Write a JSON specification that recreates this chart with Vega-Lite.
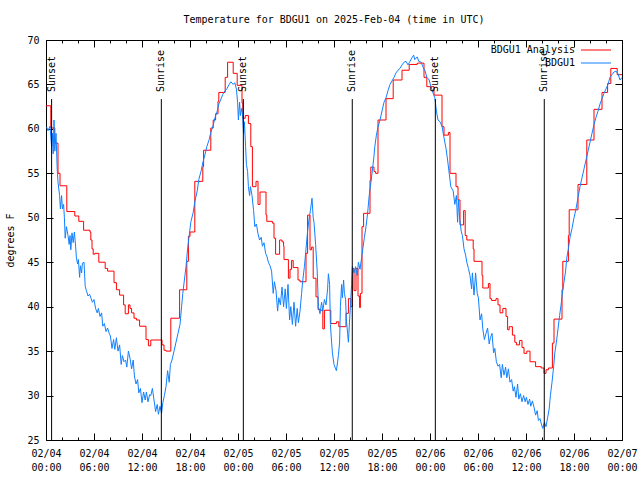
{
"$schema": "https://vega.github.io/schema/vega-lite/v6.json",
"width": 576, "height": 400,
"autosize": {"type": "none"},
"padding": {"left": 46, "top": 40, "right": 18, "bottom": 40},
"background": "white",
"title": {"text": "Temperature for BDGU1 on 2025-Feb-04 (time in UTC)", "font": "DejaVu Sans Mono", "fontSize": 10, "fontWeight": "normal", "color": "black", "offset": 10, "anchor": "middle"},
"config": {
 "view": {"stroke": null},
 "font": "DejaVu Sans Mono",
 "axis": {"labelFont": "DejaVu Sans Mono", "labelFontSize": 10, "labelColor": "black", "titleFont": "DejaVu Sans Mono", "titleFontSize": 10, "titleFontWeight": "normal", "titleColor": "black", "domainColor": "black", "tickColor": "black", "grid": false, "labelFlush": false, "labelOverlap": false, "labelBound": false, "domainWidth": 1, "tickWidth": 1},
 "legend": {"labelFont": "DejaVu Sans Mono", "labelFontSize": 10, "labelColor": "black"}
},
"datasets": {
"analysis": [
{"time":"2025-02-04T00:00Z","temp":62.6},{"time":"2025-02-04T00:36Z","temp":60.1},{"time":"2025-02-04T01:06Z","temp":58.4},{"time":"2025-02-04T01:30Z","temp":55.0},{"time":"2025-02-04T01:45Z","temp":53.6},{"time":"2025-02-04T02:36Z","temp":50.7},{"time":"2025-02-04T03:36Z","temp":50.2},{"time":"2025-02-04T04:06Z","temp":49.6},{"time":"2025-02-04T04:42Z","temp":48.6},{"time":"2025-02-04T05:30Z","temp":48.4},{"time":"2025-02-04T05:36Z","temp":47.5},{"time":"2025-02-04T05:45Z","temp":46.5},{"time":"2025-02-04T05:54Z","temp":45.9},{"time":"2025-02-04T06:06Z","temp":46.0},{"time":"2025-02-04T06:36Z","temp":45.0},{"time":"2025-02-04T07:24Z","temp":44.3},{"time":"2025-02-04T07:42Z","temp":44.0},{"time":"2025-02-04T08:30Z","temp":42.7},{"time":"2025-02-04T08:48Z","temp":41.9},{"time":"2025-02-04T09:12Z","temp":41.3},{"time":"2025-02-04T09:42Z","temp":40.2},{"time":"2025-02-04T09:54Z","temp":39.2},{"time":"2025-02-04T10:18Z","temp":40.2},{"time":"2025-02-04T10:30Z","temp":39.8},{"time":"2025-02-04T10:42Z","temp":39.3},{"time":"2025-02-04T11:00Z","temp":38.7},{"time":"2025-02-04T11:18Z","temp":38.5},{"time":"2025-02-04T11:42Z","temp":37.8},{"time":"2025-02-04T12:30Z","temp":36.3},{"time":"2025-02-04T12:48Z","temp":35.6},{"time":"2025-02-04T13:06Z","temp":36.25},{"time":"2025-02-04T14:30Z","temp":35.7},{"time":"2025-02-04T14:45Z","temp":35.1},{"time":"2025-02-04T15:00Z","temp":35.0},{"time":"2025-02-04T15:36Z","temp":38.7},{"time":"2025-02-04T16:42Z","temp":41.9},{"time":"2025-02-04T17:36Z","temp":45.1},{"time":"2025-02-04T17:48Z","temp":47.9},{"time":"2025-02-04T18:00Z","temp":48.4},{"time":"2025-02-04T18:36Z","temp":54.1},{"time":"2025-02-04T19:36Z","temp":55.75},{"time":"2025-02-04T19:42Z","temp":57.6},{"time":"2025-02-04T20:36Z","temp":60.1},{"time":"2025-02-04T20:54Z","temp":61.0},{"time":"2025-02-04T21:12Z","temp":61.7},{"time":"2025-02-04T21:30Z","temp":63.1},{"time":"2025-02-04T21:36Z","temp":64.1},{"time":"2025-02-04T22:24Z","temp":65.8},{"time":"2025-02-04T22:42Z","temp":67.5},{"time":"2025-02-04T23:24Z","temp":66.25},{"time":"2025-02-04T23:54Z","temp":64.9},
{"time":"2025-02-05T00:30Z","temp":62.9},{"time":"2025-02-05T00:36Z","temp":61.2},{"time":"2025-02-05T00:54Z","temp":61.5},{"time":"2025-02-05T01:18Z","temp":60.6},{"time":"2025-02-05T01:36Z","temp":58.0},{"time":"2025-02-05T01:48Z","temp":53.5},{"time":"2025-02-05T02:15Z","temp":54.1},{"time":"2025-02-05T02:30Z","temp":51.5},{"time":"2025-02-05T02:45Z","temp":52.9},{"time":"2025-02-05T03:30Z","temp":50.3},{"time":"2025-02-05T03:36Z","temp":49.6},{"time":"2025-02-05T04:18Z","temp":49.4},{"time":"2025-02-05T04:30Z","temp":47.7},{"time":"2025-02-05T04:42Z","temp":45.9},{"time":"2025-02-05T05:12Z","temp":47.5},{"time":"2025-02-05T05:30Z","temp":47.3},{"time":"2025-02-05T05:42Z","temp":46.8},{"time":"2025-02-05T05:45Z","temp":45.3},{"time":"2025-02-05T06:18Z","temp":43.2},{"time":"2025-02-05T06:30Z","temp":44.2},{"time":"2025-02-05T06:42Z","temp":45.2},{"time":"2025-02-05T06:54Z","temp":44.4},{"time":"2025-02-05T07:30Z","temp":43.0},{"time":"2025-02-05T07:45Z","temp":42.8},{"time":"2025-02-05T08:30Z","temp":46.0},{"time":"2025-02-05T08:42Z","temp":50.3},{"time":"2025-02-05T09:00Z","temp":46.4},{"time":"2025-02-05T09:12Z","temp":46.7},{"time":"2025-02-05T09:24Z","temp":43.2},{"time":"2025-02-05T09:45Z","temp":41.1},{"time":"2025-02-05T10:00Z","temp":39.7},{"time":"2025-02-05T10:15Z","temp":39.6},{"time":"2025-02-05T10:36Z","temp":37.5},{"time":"2025-02-05T10:48Z","temp":39.6},{"time":"2025-02-05T11:36Z","temp":38.1},{"time":"2025-02-05T12:18Z","temp":38.3},{"time":"2025-02-05T12:36Z","temp":37.75},{"time":"2025-02-05T13:30Z","temp":39.25},{"time":"2025-02-05T13:48Z","temp":40.9},{"time":"2025-02-05T14:06Z","temp":40.0},{"time":"2025-02-05T14:18Z","temp":44.3},{"time":"2025-02-05T14:30Z","temp":41.8},{"time":"2025-02-05T14:45Z","temp":44.3},{"time":"2025-02-05T15:00Z","temp":41.2},{"time":"2025-02-05T15:12Z","temp":39.9},{"time":"2025-02-05T15:18Z","temp":41.5},{"time":"2025-02-05T15:30Z","temp":49.0},{"time":"2025-02-05T15:42Z","temp":50.5},{"time":"2025-02-05T16:30Z","temp":54.2},{"time":"2025-02-05T16:36Z","temp":55.7},{"time":"2025-02-05T17:00Z","temp":55.2},{"time":"2025-02-05T17:12Z","temp":55.0},{"time":"2025-02-05T17:30Z","temp":61.0},{"time":"2025-02-05T18:30Z","temp":63.4},{"time":"2025-02-05T19:24Z","temp":65.5},{"time":"2025-02-05T20:30Z","temp":66.6},{"time":"2025-02-05T21:24Z","temp":67.25},{"time":"2025-02-05T22:24Z","temp":67.4},{"time":"2025-02-05T23:15Z","temp":65.8},{"time":"2025-02-05T23:36Z","temp":64.75},
{"time":"2025-02-06T00:30Z","temp":63.8},{"time":"2025-02-06T01:30Z","temp":60.25},{"time":"2025-02-06T01:45Z","temp":59.3},{"time":"2025-02-06T02:18Z","temp":59.6},{"time":"2025-02-06T02:30Z","temp":55.0},{"time":"2025-02-06T03:15Z","temp":53.5},{"time":"2025-02-06T03:30Z","temp":52.0},{"time":"2025-02-06T03:45Z","temp":49.2},{"time":"2025-02-06T04:12Z","temp":50.8},{"time":"2025-02-06T04:24Z","temp":48.0},{"time":"2025-02-06T04:36Z","temp":47.5},{"time":"2025-02-06T05:24Z","temp":46.5},{"time":"2025-02-06T05:30Z","temp":45.1},{"time":"2025-02-06T06:30Z","temp":43.5},{"time":"2025-02-06T06:36Z","temp":42.1},{"time":"2025-02-06T07:18Z","temp":42.6},{"time":"2025-02-06T07:30Z","temp":40.9},{"time":"2025-02-06T07:42Z","temp":40.7},{"time":"2025-02-06T08:15Z","temp":40.9},{"time":"2025-02-06T08:30Z","temp":40.2},{"time":"2025-02-06T08:45Z","temp":39.3},{"time":"2025-02-06T09:06Z","temp":39.8},{"time":"2025-02-06T09:30Z","temp":38.9},{"time":"2025-02-06T09:42Z","temp":37.4},{"time":"2025-02-06T09:54Z","temp":37.75},{"time":"2025-02-06T10:18Z","temp":36.8},{"time":"2025-02-06T10:36Z","temp":36.0},{"time":"2025-02-06T10:48Z","temp":35.7},{"time":"2025-02-06T11:12Z","temp":36.2},{"time":"2025-02-06T11:30Z","temp":35.4},{"time":"2025-02-06T11:45Z","temp":34.75},{"time":"2025-02-06T12:06Z","temp":35.0},{"time":"2025-02-06T12:30Z","temp":33.8},{"time":"2025-02-06T13:12Z","temp":33.25},{"time":"2025-02-06T13:54Z","temp":33.1},{"time":"2025-02-06T14:15Z","temp":32.5},{"time":"2025-02-06T14:30Z","temp":32.9},{"time":"2025-02-06T14:48Z","temp":33.1},{"time":"2025-02-06T15:18Z","temp":35.9},{"time":"2025-02-06T15:30Z","temp":38.6},{"time":"2025-02-06T16:30Z","temp":41.9},{"time":"2025-02-06T16:36Z","temp":45.1},{"time":"2025-02-06T17:18Z","temp":48.0},{"time":"2025-02-06T17:24Z","temp":50.9},{"time":"2025-02-06T18:30Z","temp":53.75},{"time":"2025-02-06T19:36Z","temp":58.75},{"time":"2025-02-06T20:30Z","temp":62.2},{"time":"2025-02-06T21:30Z","temp":64.1},{"time":"2025-02-06T22:12Z","temp":65.1},{"time":"2025-02-06T22:36Z","temp":66.8},{"time":"2025-02-06T23:24Z","temp":66.1},{"time":"2025-02-07T00:00Z","temp":66.1}
],
"obs": [
{"time":"2025-02-04T00:05Z","temp":60.2},{"time":"2025-02-04T00:15Z","temp":59.8},{"time":"2025-02-04T00:30Z","temp":60.3},{"time":"2025-02-04T00:42Z","temp":58.0},{"time":"2025-02-04T00:48Z","temp":59.5},{"time":"2025-02-04T00:54Z","temp":57.2},{"time":"2025-02-04T01:00Z","temp":61.0},{"time":"2025-02-04T01:06Z","temp":57.5},{"time":"2025-02-04T01:15Z","temp":59.5},{"time":"2025-02-04T01:24Z","temp":55.5},{"time":"2025-02-04T01:30Z","temp":54.0},{"time":"2025-02-04T01:42Z","temp":52.5},{"time":"2025-02-04T01:48Z","temp":51.0},{"time":"2025-02-04T01:57Z","temp":52.5},{"time":"2025-02-04T02:03Z","temp":51.0},{"time":"2025-02-04T02:12Z","temp":51.5},{"time":"2025-02-04T02:18Z","temp":50.0},{"time":"2025-02-04T02:24Z","temp":47.7},{"time":"2025-02-04T02:33Z","temp":49.0},{"time":"2025-02-04T02:45Z","temp":48.0},{"time":"2025-02-04T02:54Z","temp":47.0},{"time":"2025-02-04T03:00Z","temp":48.0},{"time":"2025-02-04T03:06Z","temp":46.4},{"time":"2025-02-04T03:15Z","temp":48.3},{"time":"2025-02-04T03:24Z","temp":47.2},{"time":"2025-02-04T03:33Z","temp":48.4},{"time":"2025-02-04T03:42Z","temp":46.8},{"time":"2025-02-04T03:48Z","temp":45.5},{"time":"2025-02-04T03:57Z","temp":44.8},{"time":"2025-02-04T04:03Z","temp":45.3},{"time":"2025-02-04T04:12Z","temp":43.3},{"time":"2025-02-04T04:18Z","temp":44.6},{"time":"2025-02-04T04:27Z","temp":43.8},{"time":"2025-02-04T04:33Z","temp":44.9},{"time":"2025-02-04T04:45Z","temp":45.0},{"time":"2025-02-04T04:54Z","temp":42.3},{"time":"2025-02-04T05:03Z","temp":41.8},{"time":"2025-02-04T05:15Z","temp":41.2},{"time":"2025-02-04T05:27Z","temp":41.4},{"time":"2025-02-04T05:36Z","temp":41.0},{"time":"2025-02-04T05:48Z","temp":40.5},{"time":"2025-02-04T06:00Z","temp":40.8},{"time":"2025-02-04T06:12Z","temp":39.8},{"time":"2025-02-04T06:24Z","temp":39.3},{"time":"2025-02-04T06:33Z","temp":39.8},{"time":"2025-02-04T06:45Z","temp":38.9},{"time":"2025-02-04T06:57Z","temp":39.3},{"time":"2025-02-04T07:06Z","temp":37.8},{"time":"2025-02-04T07:18Z","temp":38.1},{"time":"2025-02-04T07:30Z","temp":37.2},{"time":"2025-02-04T07:42Z","temp":37.6},{"time":"2025-02-04T07:54Z","temp":37.0},{"time":"2025-02-04T08:03Z","temp":36.7},{"time":"2025-02-04T08:15Z","temp":35.3},{"time":"2025-02-04T08:27Z","temp":36.3},{"time":"2025-02-04T08:36Z","temp":35.2},{"time":"2025-02-04T08:48Z","temp":36.5},{"time":"2025-02-04T09:00Z","temp":35.0},{"time":"2025-02-04T09:12Z","temp":35.7},{"time":"2025-02-04T09:24Z","temp":33.5},{"time":"2025-02-04T09:33Z","temp":34.5},{"time":"2025-02-04T09:45Z","temp":33.8},{"time":"2025-02-04T09:57Z","temp":34.0},{"time":"2025-02-04T10:06Z","temp":33.2},{"time":"2025-02-04T10:18Z","temp":35.0},{"time":"2025-02-04T10:30Z","temp":34.2},{"time":"2025-02-04T10:42Z","temp":33.0},{"time":"2025-02-04T10:54Z","temp":34.0},{"time":"2025-02-04T11:03Z","temp":32.2},{"time":"2025-02-04T11:15Z","temp":31.3},{"time":"2025-02-04T11:27Z","temp":31.8},{"time":"2025-02-04T11:36Z","temp":30.3},{"time":"2025-02-04T11:48Z","temp":30.8},{"time":"2025-02-04T12:00Z","temp":29.2},{"time":"2025-02-04T12:12Z","temp":30.4},{"time":"2025-02-04T12:24Z","temp":29.5},{"time":"2025-02-04T12:33Z","temp":30.4},{"time":"2025-02-04T12:45Z","temp":29.3},{"time":"2025-02-04T12:57Z","temp":30.1},{"time":"2025-02-04T13:06Z","temp":30.0},{"time":"2025-02-04T13:18Z","temp":30.8},{"time":"2025-02-04T13:30Z","temp":29.5},{"time":"2025-02-04T13:42Z","temp":28.2},{"time":"2025-02-04T13:54Z","temp":29.0},{"time":"2025-02-04T14:03Z","temp":27.9},{"time":"2025-02-04T14:15Z","temp":28.8},{"time":"2025-02-04T14:27Z","temp":28.0},{"time":"2025-02-04T14:36Z","temp":29.2},{"time":"2025-02-04T14:48Z","temp":30.0},{"time":"2025-02-04T15:00Z","temp":31.0},{"time":"2025-02-04T15:12Z","temp":32.8},{"time":"2025-02-04T15:24Z","temp":31.5},{"time":"2025-02-04T15:33Z","temp":33.5},{"time":"2025-02-04T15:45Z","temp":34.0},{"time":"2025-02-04T16:00Z","temp":35.0},{"time":"2025-02-04T16:15Z","temp":36.0},{"time":"2025-02-04T16:30Z","temp":37.0},{"time":"2025-02-04T16:45Z","temp":38.0},{"time":"2025-02-04T16:57Z","temp":40.0},{"time":"2025-02-04T17:06Z","temp":41.5},{"time":"2025-02-04T17:18Z","temp":43.0},{"time":"2025-02-04T17:30Z","temp":44.5},{"time":"2025-02-04T17:42Z","temp":46.5},{"time":"2025-02-04T17:54Z","temp":48.0},{"time":"2025-02-04T18:06Z","temp":49.5},{"time":"2025-02-04T18:24Z","temp":50.6},{"time":"2025-02-04T18:36Z","temp":51.8},{"time":"2025-02-04T18:54Z","temp":53.0},{"time":"2025-02-04T19:06Z","temp":54.3},{"time":"2025-02-04T19:24Z","temp":55.3},{"time":"2025-02-04T19:36Z","temp":56.2},{"time":"2025-02-04T19:54Z","temp":57.2},{"time":"2025-02-04T20:06Z","temp":58.0},{"time":"2025-02-04T20:24Z","temp":58.8},{"time":"2025-02-04T20:36Z","temp":59.6},{"time":"2025-02-04T20:54Z","temp":60.4},{"time":"2025-02-04T21:06Z","temp":61.2},{"time":"2025-02-04T21:24Z","temp":62.0},{"time":"2025-02-04T21:36Z","temp":62.8},{"time":"2025-02-04T21:54Z","temp":63.4},{"time":"2025-02-04T22:06Z","temp":63.9},{"time":"2025-02-04T22:24Z","temp":64.3},{"time":"2025-02-04T22:36Z","temp":64.5},{"time":"2025-02-04T22:54Z","temp":65.0},{"time":"2025-02-04T23:06Z","temp":65.3},{"time":"2025-02-04T23:24Z","temp":65.0},{"time":"2025-02-04T23:36Z","temp":65.2},{"time":"2025-02-04T23:48Z","temp":64.5},{"time":"2025-02-04T23:57Z","temp":63.0},
{"time":"2025-02-05T00:03Z","temp":61.0},{"time":"2025-02-05T00:12Z","temp":63.0},{"time":"2025-02-05T00:18Z","temp":61.5},{"time":"2025-02-05T00:27Z","temp":62.3},{"time":"2025-02-05T00:33Z","temp":61.8},{"time":"2025-02-05T00:42Z","temp":59.5},{"time":"2025-02-05T00:48Z","temp":60.8},{"time":"2025-02-05T00:57Z","temp":58.0},{"time":"2025-02-05T01:03Z","temp":56.0},{"time":"2025-02-05T01:12Z","temp":55.2},{"time":"2025-02-05T01:18Z","temp":53.5},{"time":"2025-02-05T01:27Z","temp":52.5},{"time":"2025-02-05T01:33Z","temp":53.5},{"time":"2025-02-05T01:45Z","temp":52.5},{"time":"2025-02-05T01:57Z","temp":50.8},{"time":"2025-02-05T02:06Z","temp":49.0},{"time":"2025-02-05T02:18Z","temp":49.3},{"time":"2025-02-05T02:30Z","temp":48.2},{"time":"2025-02-05T02:42Z","temp":47.5},{"time":"2025-02-05T02:54Z","temp":47.8},{"time":"2025-02-05T03:03Z","temp":46.8},{"time":"2025-02-05T03:15Z","temp":47.2},{"time":"2025-02-05T03:27Z","temp":46.0},{"time":"2025-02-05T03:36Z","temp":45.7},{"time":"2025-02-05T03:48Z","temp":45.0},{"time":"2025-02-05T04:00Z","temp":44.6},{"time":"2025-02-05T04:12Z","temp":44.0},{"time":"2025-02-05T04:24Z","temp":41.5},{"time":"2025-02-05T04:33Z","temp":42.8},{"time":"2025-02-05T04:45Z","temp":41.8},{"time":"2025-02-05T04:57Z","temp":39.5},{"time":"2025-02-05T05:06Z","temp":41.0},{"time":"2025-02-05T05:18Z","temp":40.2},{"time":"2025-02-05T05:30Z","temp":42.2},{"time":"2025-02-05T05:42Z","temp":40.0},{"time":"2025-02-05T05:54Z","temp":42.0},{"time":"2025-02-05T06:03Z","temp":39.8},{"time":"2025-02-05T06:15Z","temp":42.5},{"time":"2025-02-05T06:27Z","temp":38.5},{"time":"2025-02-05T06:36Z","temp":40.0},{"time":"2025-02-05T06:48Z","temp":38.0},{"time":"2025-02-05T07:00Z","temp":40.5},{"time":"2025-02-05T07:12Z","temp":37.8},{"time":"2025-02-05T07:24Z","temp":39.8},{"time":"2025-02-05T07:33Z","temp":38.2},{"time":"2025-02-05T07:45Z","temp":39.5},{"time":"2025-02-05T07:57Z","temp":41.5},{"time":"2025-02-05T08:06Z","temp":43.0},{"time":"2025-02-05T08:18Z","temp":44.5},{"time":"2025-02-05T08:30Z","temp":46.5},{"time":"2025-02-05T08:42Z","temp":48.5},{"time":"2025-02-05T08:54Z","temp":50.0},{"time":"2025-02-05T09:03Z","temp":50.8},{"time":"2025-02-05T09:15Z","temp":52.2},{"time":"2025-02-05T09:24Z","temp":50.0},{"time":"2025-02-05T09:30Z","temp":49.5},{"time":"2025-02-05T09:42Z","temp":47.0},{"time":"2025-02-05T09:54Z","temp":44.0},{"time":"2025-02-05T10:03Z","temp":40.0},{"time":"2025-02-05T10:15Z","temp":39.2},{"time":"2025-02-05T10:27Z","temp":40.5},{"time":"2025-02-05T10:36Z","temp":39.5},{"time":"2025-02-05T10:48Z","temp":40.8},{"time":"2025-02-05T11:00Z","temp":40.2},{"time":"2025-02-05T11:12Z","temp":42.0},{"time":"2025-02-05T11:18Z","temp":43.7},{"time":"2025-02-05T11:27Z","temp":42.5},{"time":"2025-02-05T11:33Z","temp":38.0},{"time":"2025-02-05T11:42Z","temp":36.0},{"time":"2025-02-05T11:48Z","temp":34.8},{"time":"2025-02-05T12:00Z","temp":33.5},{"time":"2025-02-05T12:12Z","temp":33.0},{"time":"2025-02-05T12:18Z","temp":32.8},{"time":"2025-02-05T12:27Z","temp":33.8},{"time":"2025-02-05T12:33Z","temp":34.5},{"time":"2025-02-05T12:42Z","temp":36.0},{"time":"2025-02-05T12:48Z","temp":40.0},{"time":"2025-02-05T12:57Z","temp":42.5},{"time":"2025-02-05T13:03Z","temp":41.0},{"time":"2025-02-05T13:12Z","temp":43.0},{"time":"2025-02-05T13:18Z","temp":41.5},{"time":"2025-02-05T13:27Z","temp":40.8},{"time":"2025-02-05T13:33Z","temp":38.5},{"time":"2025-02-05T13:42Z","temp":37.0},{"time":"2025-02-05T13:48Z","temp":36.0},{"time":"2025-02-05T13:57Z","temp":38.5},{"time":"2025-02-05T14:03Z","temp":40.0},{"time":"2025-02-05T14:12Z","temp":42.5},{"time":"2025-02-05T14:18Z","temp":44.5},{"time":"2025-02-05T14:30Z","temp":43.8},{"time":"2025-02-05T14:42Z","temp":44.5},{"time":"2025-02-05T14:54Z","temp":43.5},{"time":"2025-02-05T15:03Z","temp":45.0},{"time":"2025-02-05T15:15Z","temp":44.2},{"time":"2025-02-05T15:27Z","temp":45.5},{"time":"2025-02-05T15:36Z","temp":46.5},{"time":"2025-02-05T15:48Z","temp":47.8},{"time":"2025-02-05T16:00Z","temp":49.0},{"time":"2025-02-05T16:12Z","temp":50.5},{"time":"2025-02-05T16:24Z","temp":52.5},{"time":"2025-02-05T16:33Z","temp":53.5},{"time":"2025-02-05T16:45Z","temp":55.0},{"time":"2025-02-05T16:57Z","temp":56.5},{"time":"2025-02-05T17:06Z","temp":58.0},{"time":"2025-02-05T17:18Z","temp":59.3},{"time":"2025-02-05T17:30Z","temp":60.2},{"time":"2025-02-05T17:45Z","temp":61.0},{"time":"2025-02-05T18:00Z","temp":62.0},{"time":"2025-02-05T18:15Z","temp":63.0},{"time":"2025-02-05T18:30Z","temp":63.5},{"time":"2025-02-05T18:45Z","temp":64.3},{"time":"2025-02-05T19:00Z","temp":65.0},{"time":"2025-02-05T19:15Z","temp":65.4},{"time":"2025-02-05T19:30Z","temp":65.8},{"time":"2025-02-05T19:45Z","temp":66.3},{"time":"2025-02-05T20:00Z","temp":66.6},{"time":"2025-02-05T20:15Z","temp":66.8},{"time":"2025-02-05T20:30Z","temp":67.2},{"time":"2025-02-05T20:45Z","temp":67.5},{"time":"2025-02-05T21:00Z","temp":67.6},{"time":"2025-02-05T21:15Z","temp":67.2},{"time":"2025-02-05T21:30Z","temp":67.6},{"time":"2025-02-05T21:45Z","temp":68.0},{"time":"2025-02-05T21:57Z","temp":68.3},{"time":"2025-02-05T22:06Z","temp":67.8},{"time":"2025-02-05T22:24Z","temp":68.1},{"time":"2025-02-05T22:36Z","temp":67.6},{"time":"2025-02-05T22:54Z","temp":67.5},{"time":"2025-02-05T23:06Z","temp":67.0},{"time":"2025-02-05T23:24Z","temp":66.5},{"time":"2025-02-05T23:36Z","temp":65.8},{"time":"2025-02-05T23:54Z","temp":65.5},
{"time":"2025-02-06T00:06Z","temp":64.8},{"time":"2025-02-06T00:24Z","temp":64.0},{"time":"2025-02-06T00:36Z","temp":63.5},{"time":"2025-02-06T00:48Z","temp":62.0},{"time":"2025-02-06T01:00Z","temp":61.0},{"time":"2025-02-06T01:15Z","temp":60.8},{"time":"2025-02-06T01:30Z","temp":60.3},{"time":"2025-02-06T01:45Z","temp":59.0},{"time":"2025-02-06T02:00Z","temp":57.8},{"time":"2025-02-06T02:12Z","temp":56.5},{"time":"2025-02-06T02:24Z","temp":55.0},{"time":"2025-02-06T02:36Z","temp":53.5},{"time":"2025-02-06T02:54Z","temp":53.0},{"time":"2025-02-06T03:06Z","temp":51.5},{"time":"2025-02-06T03:18Z","temp":52.5},{"time":"2025-02-06T03:27Z","temp":49.5},{"time":"2025-02-06T03:33Z","temp":52.0},{"time":"2025-02-06T03:42Z","temp":50.0},{"time":"2025-02-06T03:54Z","temp":48.5},{"time":"2025-02-06T04:03Z","temp":48.0},{"time":"2025-02-06T04:15Z","temp":46.5},{"time":"2025-02-06T04:27Z","temp":45.8},{"time":"2025-02-06T04:36Z","temp":45.0},{"time":"2025-02-06T04:48Z","temp":44.3},{"time":"2025-02-06T05:00Z","temp":43.5},{"time":"2025-02-06T05:12Z","temp":42.0},{"time":"2025-02-06T05:18Z","temp":43.8},{"time":"2025-02-06T05:30Z","temp":41.3},{"time":"2025-02-06T05:42Z","temp":43.8},{"time":"2025-02-06T05:54Z","temp":41.5},{"time":"2025-02-06T06:03Z","temp":41.0},{"time":"2025-02-06T06:15Z","temp":38.5},{"time":"2025-02-06T06:27Z","temp":39.2},{"time":"2025-02-06T06:36Z","temp":37.5},{"time":"2025-02-06T06:48Z","temp":36.3},{"time":"2025-02-06T07:00Z","temp":37.0},{"time":"2025-02-06T07:12Z","temp":37.6},{"time":"2025-02-06T07:24Z","temp":35.8},{"time":"2025-02-06T07:33Z","temp":36.5},{"time":"2025-02-06T07:45Z","temp":37.0},{"time":"2025-02-06T07:57Z","temp":34.8},{"time":"2025-02-06T08:06Z","temp":35.3},{"time":"2025-02-06T08:18Z","temp":33.8},{"time":"2025-02-06T08:30Z","temp":33.3},{"time":"2025-02-06T08:42Z","temp":33.5},{"time":"2025-02-06T08:54Z","temp":32.0},{"time":"2025-02-06T09:03Z","temp":33.5},{"time":"2025-02-06T09:15Z","temp":32.3},{"time":"2025-02-06T09:27Z","temp":33.2},{"time":"2025-02-06T09:36Z","temp":32.0},{"time":"2025-02-06T09:48Z","temp":33.0},{"time":"2025-02-06T10:00Z","temp":31.5},{"time":"2025-02-06T10:12Z","temp":31.8},{"time":"2025-02-06T10:24Z","temp":30.5},{"time":"2025-02-06T10:33Z","temp":31.0},{"time":"2025-02-06T10:45Z","temp":29.8},{"time":"2025-02-06T10:57Z","temp":31.3},{"time":"2025-02-06T11:06Z","temp":29.6},{"time":"2025-02-06T11:18Z","temp":30.2},{"time":"2025-02-06T11:30Z","temp":29.3},{"time":"2025-02-06T11:42Z","temp":30.0},{"time":"2025-02-06T11:54Z","temp":29.3},{"time":"2025-02-06T12:03Z","temp":29.8},{"time":"2025-02-06T12:15Z","temp":29.0},{"time":"2025-02-06T12:27Z","temp":29.6},{"time":"2025-02-06T12:36Z","temp":28.8},{"time":"2025-02-06T12:48Z","temp":29.4},{"time":"2025-02-06T13:00Z","temp":28.7},{"time":"2025-02-06T13:12Z","temp":27.8},{"time":"2025-02-06T13:24Z","temp":28.3},{"time":"2025-02-06T13:33Z","temp":27.2},{"time":"2025-02-06T13:45Z","temp":27.4},{"time":"2025-02-06T13:57Z","temp":26.7},{"time":"2025-02-06T14:06Z","temp":26.3},{"time":"2025-02-06T14:18Z","temp":27.0},{"time":"2025-02-06T14:30Z","temp":26.5},{"time":"2025-02-06T14:42Z","temp":27.5},{"time":"2025-02-06T14:54Z","temp":28.5},{"time":"2025-02-06T15:03Z","temp":30.0},{"time":"2025-02-06T15:15Z","temp":31.5},{"time":"2025-02-06T15:27Z","temp":33.2},{"time":"2025-02-06T15:36Z","temp":34.8},{"time":"2025-02-06T15:48Z","temp":36.0},{"time":"2025-02-06T16:00Z","temp":37.5},{"time":"2025-02-06T16:12Z","temp":39.0},{"time":"2025-02-06T16:24Z","temp":40.3},{"time":"2025-02-06T16:33Z","temp":41.5},{"time":"2025-02-06T16:45Z","temp":42.8},{"time":"2025-02-06T16:57Z","temp":44.0},{"time":"2025-02-06T17:06Z","temp":45.5},{"time":"2025-02-06T17:18Z","temp":46.5},{"time":"2025-02-06T17:30Z","temp":47.8},{"time":"2025-02-06T17:45Z","temp":48.8},{"time":"2025-02-06T18:00Z","temp":50.0},{"time":"2025-02-06T18:15Z","temp":51.0},{"time":"2025-02-06T18:30Z","temp":52.3},{"time":"2025-02-06T18:45Z","temp":53.5},{"time":"2025-02-06T19:00Z","temp":54.5},{"time":"2025-02-06T19:15Z","temp":55.5},{"time":"2025-02-06T19:30Z","temp":56.5},{"time":"2025-02-06T19:45Z","temp":57.5},{"time":"2025-02-06T20:00Z","temp":58.5},{"time":"2025-02-06T20:15Z","temp":59.5},{"time":"2025-02-06T20:30Z","temp":60.5},{"time":"2025-02-06T20:45Z","temp":61.3},{"time":"2025-02-06T21:00Z","temp":62.0},{"time":"2025-02-06T21:15Z","temp":62.8},{"time":"2025-02-06T21:30Z","temp":63.4},{"time":"2025-02-06T21:45Z","temp":64.0},{"time":"2025-02-06T22:00Z","temp":64.5},{"time":"2025-02-06T22:15Z","temp":65.0},{"time":"2025-02-06T22:30Z","temp":65.8},{"time":"2025-02-06T22:45Z","temp":66.1},{"time":"2025-02-06T23:00Z","temp":66.4},{"time":"2025-02-06T23:15Z","temp":66.5},{"time":"2025-02-06T23:30Z","temp":66.2},{"time":"2025-02-06T23:45Z","temp":65.5},{"time":"2025-02-07T00:00Z","temp":65.8}
],
"events": [
{"time":"2025-02-04T00:42Z","event":"Sunset"},{"time":"2025-02-04T14:25Z","event":"Sunrise"},{"time":"2025-02-05T00:40Z","event":"Sunset"},{"time":"2025-02-05T14:17Z","event":"Sunrise"},{"time":"2025-02-06T00:40Z","event":"Sunset"},{"time":"2025-02-06T14:17Z","event":"Sunrise"}
]
},
"resolve": {"axis": {"x": "independent", "y": "independent"}},
"layer": [
{
 "data": {"name": "analysis"},
 "mark": {"type": "line", "strokeWidth": 1, "interpolate": "step-after"},
 "encoding": {
  "x": {"field": "time", "type": "temporal", "scale": {"type": "utc", "domain": [1738627200000, 1738886400000], "nice": false},
        "axis": {"orient": "bottom", "title": null, "labels": false, "domain": false, "values": [1738627200000,1738634400000,1738641600000,1738648800000,1738656000000,1738663200000,1738670400000,1738677600000,1738684800000,1738692000000,1738699200000,1738706400000,1738713600000,1738720800000,1738728000000,1738735200000,1738742400000,1738749600000,1738756800000,1738764000000,1738771200000,1738778400000,1738785600000,1738792800000,1738800000000,1738807200000,1738814400000,1738821600000,1738828800000,1738836000000,1738843200000,1738850400000,1738857600000,1738864800000,1738872000000,1738879200000,1738886400000], "tickSize": -3}},
  "y": {"field": "temp", "type": "quantitative", "scale": {"domain": [25, 70], "nice": false, "zero": false}, "axis": null},
  "color": {"datum": "BDGU1 Analysis", "type": "nominal", "scale": {"domain": ["BDGU1 Analysis", "BDGU1"], "range": ["#ff0000", "#1080ff"]},
            "legend": {"orient": "top-right", "title": null, "symbolType": "M-5,0H5M6.3,0", "symbolSize": 36, "symbolStrokeWidth": 1, "labelAlign": "right", "labelOffset": -26, "offset": 5, "padding": 0, "rowPadding": 3}}
 }
},
{
 "data": {"name": "obs"},
 "mark": {"type": "line", "strokeWidth": 1},
 "encoding": {
  "x": {"field": "time", "type": "temporal",
        "axis": {"orient": "bottom", "title": null, "values": [1738627200000,1738648800000,1738670400000,1738692000000,1738713600000,1738735200000,1738756800000,1738778400000,1738800000000,1738821600000,1738843200000,1738864800000,1738886400000], "tickSize": -7, "labelPadding": 15, "labelLineHeight": 14, "labelExpr": "[utcFormat(datum.value, '%m/%d'), utcFormat(datum.value, '%H:%M')]"}},
  "y": {"field": "temp", "type": "quantitative",
        "axis": {"orient": "left", "title": "degrees F", "values": [25, 30, 35, 40, 45, 50, 55, 60, 65, 70], "tickSize": -7, "labelPadding": 14, "titlePadding": 11}},
  "color": {"datum": "BDGU1", "type": "nominal"}
 }
},
{
 "data": {"name": "events"},
 "mark": {"type": "rule", "color": "black", "strokeWidth": 1},
 "encoding": {
  "x": {"field": "time", "type": "temporal",
        "axis": {"orient": "top", "title": null, "labels": false, "values": [1738627200000,1738648800000,1738670400000,1738692000000,1738713600000,1738735200000,1738756800000,1738778400000,1738800000000,1738821600000,1738843200000,1738864800000,1738886400000], "tickSize": -7}},
  "y": {"datum": 63.36, "type": "quantitative",
        "axis": {"orient": "right", "title": null, "labels": false, "values": [25, 30, 35, 40, 45, 50, 55, 60, 65, 70], "tickSize": -7}},
  "y2": {"datum": 25}
 }
},
{
 "data": {"name": "events"},
 "mark": {"type": "text", "angle": 270, "align": "left", "baseline": "middle", "font": "DejaVu Sans Mono", "fontSize": 10, "color": "black"},
 "encoding": {
  "x": {"field": "time", "type": "temporal",
        "axis": {"orient": "top", "title": null, "labels": false, "domain": false, "values": [1738627200000,1738634400000,1738641600000,1738648800000,1738656000000,1738663200000,1738670400000,1738677600000,1738684800000,1738692000000,1738699200000,1738706400000,1738713600000,1738720800000,1738728000000,1738735200000,1738742400000,1738749600000,1738756800000,1738764000000,1738771200000,1738778400000,1738785600000,1738792800000,1738800000000,1738807200000,1738814400000,1738821600000,1738828800000,1738836000000,1738843200000,1738850400000,1738857600000,1738864800000,1738872000000,1738879200000,1738886400000], "tickSize": -3}},
  "y": {"datum": 64.15, "type": "quantitative", "axis": null},
  "text": {"field": "event"}
 }
}
]
}
